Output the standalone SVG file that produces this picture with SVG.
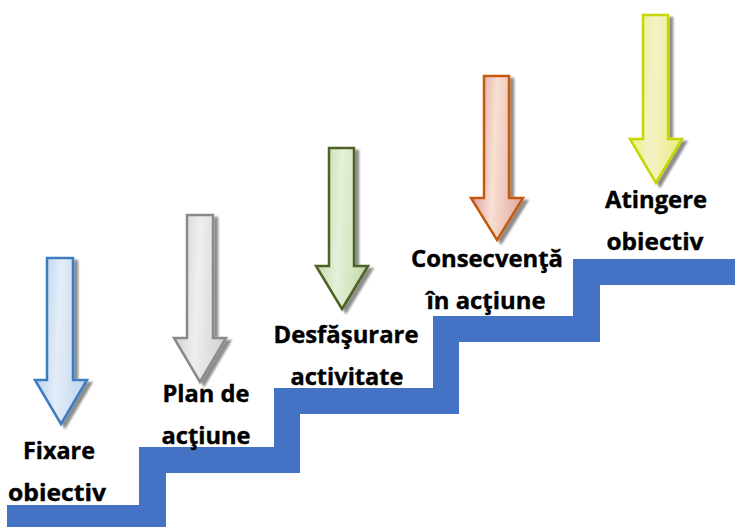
<svg xmlns="http://www.w3.org/2000/svg" width="735" height="528" viewBox="0 0 735 528">
  <defs>
    <style>
      .lbl { font-family: "Open Sans", "Liberation Sans", sans-serif; font-weight: 700; font-size: 23px; fill: #000; stroke: #000; stroke-width: 0.4; text-anchor: middle; }
      .arrow { stroke-width: 2.5; stroke-linejoin: miter; filter: url(#shadow); }
      .stairs { fill: #4472C4; }
    </style>
    <filter id="shadow" x="-30%" y="-10%" width="170%" height="130%">
      <feGaussianBlur in="SourceAlpha" stdDeviation="1.2" result="b"/>
      <feOffset in="b" dx="4" dy="3" result="o"/>
      <feComponentTransfer in="o" result="s"><feFuncA type="linear" slope="0.45"/></feComponentTransfer>
      <feMerge><feMergeNode in="s"/><feMergeNode in="SourceGraphic"/></feMerge>
    </filter>
    <linearGradient id="gBlue" x1="0" y1="0" x2="1" y2="0.15">
      <stop offset="0" stop-color="#AFC9E8"/><stop offset="0.5" stop-color="#E3EDF8"/><stop offset="1" stop-color="#C3D7EE"/>
    </linearGradient>
    <linearGradient id="gGray" x1="0" y1="0" x2="1" y2="0.15">
      <stop offset="0" stop-color="#C8C8C8"/><stop offset="0.5" stop-color="#EFEFEF"/><stop offset="1" stop-color="#D4D4D4"/>
    </linearGradient>
    <linearGradient id="gGreen" x1="0" y1="0" x2="1" y2="0.15">
      <stop offset="0" stop-color="#B9D29A"/><stop offset="0.5" stop-color="#E6F0DA"/><stop offset="1" stop-color="#C8DCAE"/>
    </linearGradient>
    <linearGradient id="gOrange" x1="0" y1="0" x2="1" y2="0.15">
      <stop offset="0" stop-color="#D48A8C"/><stop offset="0.5" stop-color="#F9E0D4"/><stop offset="1" stop-color="#E3AEA6"/>
    </linearGradient>
    <linearGradient id="gYellow" x1="0" y1="0" x2="1" y2="0.15">
      <stop offset="0" stop-color="#EFEF70"/><stop offset="0.5" stop-color="#F3F2C8"/><stop offset="1" stop-color="#EDED8A"/>
    </linearGradient>
  </defs>

  <rect x="0" y="0" width="735" height="528" fill="#FFFFFF"/>

  <g id="stairs">
    <polygon class="stairs" points="7,505 139,505 139,447 274,447 274,388 433,388 433,316 573,316 573,259 735,259 735,285 600,285 600,342 459,342 459,414 300,414 300,473 166,473 166,527 7,527"/>
  </g>

  <g id="arrows">
    <g id="arrow-1">
      <path class="arrow" fill="url(#gBlue)" stroke="#3D7CC0" d="M47,258 H73 V380 H87 L61,424 L35,380 H47 Z"/>
    </g>
    <g id="arrow-2">
      <path class="arrow" fill="url(#gGray)" stroke="#8A8A8A" d="M187,215 H213 V338 H226 L200,382 L174,338 H187 Z"/>
    </g>
    <g id="arrow-3">
      <path class="arrow" fill="url(#gGreen)" stroke="#4F6228" d="M329,148 H354 V266 H368 L342,309 L316,266 H329 Z"/>
    </g>
    <g id="arrow-4">
      <path class="arrow" fill="url(#gOrange)" stroke="#C55A11" d="M484,76 H509 V198 H523 L497,240 L471,198 H484 Z"/>
    </g>
    <g id="arrow-5">
      <path class="arrow" fill="url(#gYellow)" stroke="#C6D600" d="M643,15 H668 V139 H682 L656,183 L630,139 H643 Z"/>
    </g>
  </g>

  <g id="step-1">
    <text class="lbl" x="59" y="459" textLength="72" lengthAdjust="spacingAndGlyphs">Fixare</text>
    <text class="lbl" x="57" y="501" textLength="98" lengthAdjust="spacingAndGlyphs">obiectiv</text>
  </g>
  <g id="step-2">
    <text class="lbl" x="206" y="402" textLength="87" lengthAdjust="spacingAndGlyphs">Plan de</text>
    <text class="lbl" x="206" y="444" textLength="89" lengthAdjust="spacingAndGlyphs">acţiune</text>
  </g>
  <g id="step-3">
    <text class="lbl" x="346" y="343" textLength="145" lengthAdjust="spacingAndGlyphs">Desfăşurare</text>
    <text class="lbl" x="347" y="385" textLength="113" lengthAdjust="spacingAndGlyphs">activitate</text>
  </g>
  <g id="step-4">
    <text class="lbl" x="487" y="267" textLength="152" lengthAdjust="spacingAndGlyphs">Consecvenţă</text>
    <text class="lbl" x="486" y="309" textLength="119" lengthAdjust="spacingAndGlyphs">în acţiune</text>
  </g>
  <g id="step-5">
    <text class="lbl" x="656" y="208" textLength="102" lengthAdjust="spacingAndGlyphs">Atingere</text>
    <text class="lbl" x="655" y="250" textLength="97" lengthAdjust="spacingAndGlyphs">obiectiv</text>
  </g>
</svg>
